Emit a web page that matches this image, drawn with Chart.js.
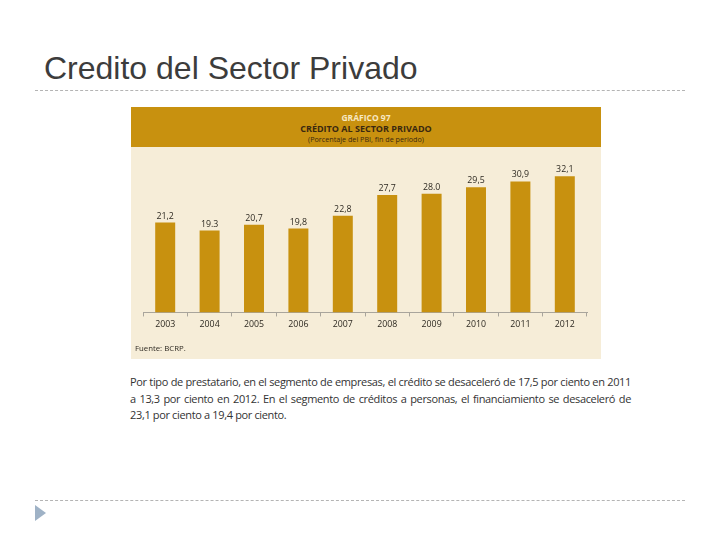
<!DOCTYPE html>
<html>
<head>
<meta charset="utf-8">
<script src="https://cdn.jsdelivr.net/npm/chart.js@4.4.0/dist/chart.umd.min.js"></script>
<style>
    html, body { margin: 0; padding: 0; background: #fff; }
    body { width: 720px; height: 540px; position: relative; overflow: hidden; }
    .slide-title {
        position: absolute; left: 44px; top: 50px;
        font: 32px "Liberation Sans", Arial, sans-serif; color: #3c3c3c;
        white-space: nowrap;
    }
    .rule {
        position: absolute; left: 35px; width: 650px; height: 0;
        border-top: 1px dashed #b4b4b4;
    }
    .arrow {
        position: absolute; left: 35px; top: 505px; width: 0; height: 0;
        border-top: 8px solid transparent; border-bottom: 8px solid transparent;
        border-left: 11px solid #9fb2c6;
    }
    .panel-head {
        position: absolute; left: 131px; top: 107px; width: 470px; height: 40px;
        background: #c8910f; text-align: center; font-family: "Open Sans", sans-serif;
    }
    .panel-head div { line-height: 11px; white-space: nowrap; }
    .panel-body {
        position: absolute; left: 131px; top: 147px; width: 470px; height: 212px;
        background: #f6edd8;
    }
    .source {
        position: absolute; left: 4px; top: 196px;
        font: 7.8px "Open Sans", sans-serif; color: #2e2a22;
    }
    .para {
        position: absolute; left: 130px; top: 374px; width: 501px;
        font: 11px "Open Sans", sans-serif; letter-spacing: -0.35px;
        color: #333; line-height: 16.5px;
    }
    .para div { white-space: nowrap; text-align: justify; text-align-last: justify; }
    .para div.last { text-align-last: left; }
</style>
</head>
<body>
<div class="slide-title">Credito del Sector Privado</div>
<div class="rule" style="top: 90px;"></div>
<div class="rule" style="top: 500px;"></div>
<div class="arrow"></div>

<div class="panel-head">
    <div style="padding-top: 5px; font-size: 8.5px; font-weight: 700; color: #f8e8c2;">GRÁFICO 97</div>
    <div style="font-size: 9px; font-weight: 700; color: #3a2810;">CRÉDITO AL SECTOR PRIVADO</div>
    <div style="font-size: 7.2px; color: #3a2810;">(Porcentaje del PBI, fin de periodo)</div>
</div>
<div class="panel-body">
    <div style="position: absolute; left: 0; top: 0; width: 470px; height: 212px;">
        <canvas id="creditChart"></canvas>
    </div>
    <div class="source">Fuente: BCRP.</div>
</div>

<div class="para">
    <div>Por tipo de prestatario, en el segmento de empresas, el crédito se desaceleró de 17,5 por ciento en 2011</div>
    <div>a 13,3 por ciento en 2012. En el segmento de créditos a personas, el financiamiento se desaceleró de</div>
    <div class="last">23,1 por ciento a 19,4 por ciento.</div>
</div>

<script>
const years = ['2003', '2004', '2005', '2006', '2007', '2008', '2009', '2010', '2011', '2012'];
const creditValues = [21.2, 19.3, 20.7, 19.8, 22.8, 27.7, 28.0, 29.5, 30.9, 32.1];
const valueLabels = ['21,2', '19.3', '20,7', '19,8', '22,8', '27,7', '28.0', '29,5', '30,9', '32,1'];

// value printed on top of every bar
const barLabels = {
    id: 'barLabels',
    afterDatasetsDraw(chart) {
        const ctx = chart.ctx;
        const meta = chart.getDatasetMeta(0);
        ctx.save();
        ctx.font = '8.8px "Open Sans", sans-serif';
        ctx.fillStyle = '#2e2a22';
        ctx.textAlign = 'center';
        ctx.textBaseline = 'bottom';
        meta.data.forEach((bar, i) => {
            ctx.fillText(valueLabels[i], bar.x, bar.y - 2);
        });
        ctx.restore();
    }
};

document.addEventListener('DOMContentLoaded', () => {
    const ctx = document.getElementById('creditChart').getContext('2d');
    new Chart(ctx, {
        type: 'bar',
        data: {
            labels: years,
            datasets: [{
                data: creditValues,
                backgroundColor: '#c8910f',
                categoryPercentage: 1,
                barPercentage: 0.45
            }]
        },
        options: {
            responsive: true,
            maintainAspectRatio: false,
            animation: false,
            layout: { padding: { left: 12, right: 14, top: 17, bottom: 26 } },
            plugins: {
                legend: { display: false },
                tooltip: { enabled: false }
            },
            scales: {
                x: {
                    grid: {
                        drawOnChartArea: false,
                        drawTicks: true,
                        tickLength: 4,
                        color: '#a9a59c'
                    },
                    border: { color: '#a9a59c', width: 1 },
                    ticks: {
                        color: '#2e2a22',
                        padding: 3,
                        font: { family: '"Open Sans", sans-serif', size: 8.8 }
                    }
                },
                y: {
                    display: false,
                    min: 0,
                    max: 35
                }
            }
        },
        plugins: [barLabels]
    });
});
</script>
</body>
</html>
